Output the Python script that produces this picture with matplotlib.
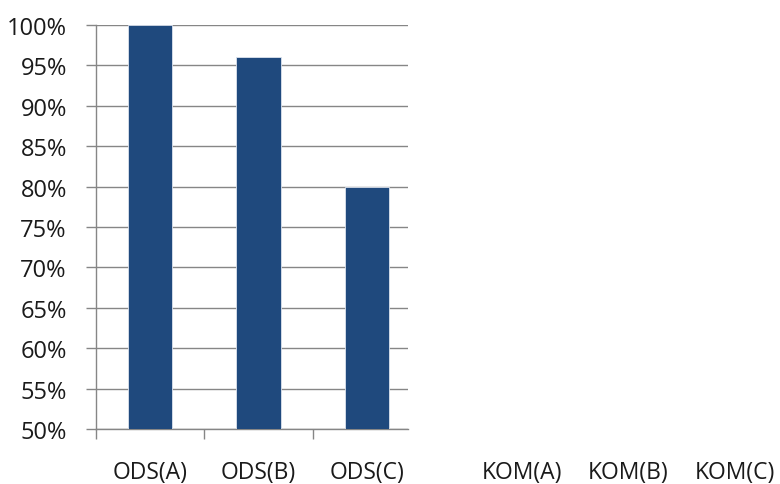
import matplotlib.pyplot as plt
import matplotlib.transforms as mtransforms
from matplotlib.ticker import FixedLocator, PercentFormatter
import numpy as np

plt.rcParams['font.family'] = ['Open Sans', 'DejaVu Sans']

ods_labels = ['ODS(A)', 'ODS(B)', 'ODS(C)']
ods_values = [1.00, 0.961, 0.80]
kom_labels = ['KOM(A)', 'KOM(B)', 'KOM(C)']
y_ticks = [0.50, 0.55, 0.60, 0.65, 0.70, 0.75, 0.80, 0.85, 0.90, 0.95, 1.00]

bar_color = '#1F497D'
grid_color = '#868686'
text_color = '#1a1a1a'

fig = plt.figure(figsize=(7.8, 4.85), dpi=100)
ax = fig.add_axes([0.1231, 0.1134, 0.4, 0.833])

x = np.arange(len(ods_labels))
ax.bar(x, ods_values, width=0.41, color=bar_color, edgecolor='#DCE3EE',
       linewidth=0.6, zorder=3)

ax.set_ylim(0.5, 1.0)
ax.set_xlim(-0.5, 2.378)
ax.yaxis.set_major_locator(FixedLocator(y_ticks))
ax.yaxis.set_major_formatter(PercentFormatter(1.0, decimals=0))
ax.yaxis.grid(True, color=grid_color, linewidth=1.0, zorder=0)

# tick marks sit on the category borders
ax.xaxis.set_major_locator(FixedLocator([-0.5, 0.5, 1.5]))
ax.set_xticklabels([])

for side in ['top', 'right']:
    ax.spines[side].set_visible(False)
for side in ['left', 'bottom']:
    ax.spines[side].set_color(grid_color)
    ax.spines[side].set_linewidth(1.0)

ax.tick_params(axis='y', length=7, width=1.0, color=grid_color,
               labelsize=17, labelcolor=text_color, pad=14)
ax.tick_params(axis='x', length=7, width=1.0, color=grid_color)

trans = mtransforms.blended_transform_factory(ax.transData, ax.transAxes)
label_y = -0.107
for i, lab in enumerate(ods_labels):
    ax.text(i, label_y, lab, transform=trans, ha='center', va='center',
            fontsize=16.5, color=text_color, clip_on=False)
# the KOM categories fall outside the plot area
for i, lab in enumerate(kom_labels):
    ax.text(len(ods_labels) + i * 0.98 + 0.43, label_y, lab, transform=trans,
            ha='center', va='center', fontsize=16.5, color=text_color,
            clip_on=False)

fig.savefig('out.png', dpi=100)
